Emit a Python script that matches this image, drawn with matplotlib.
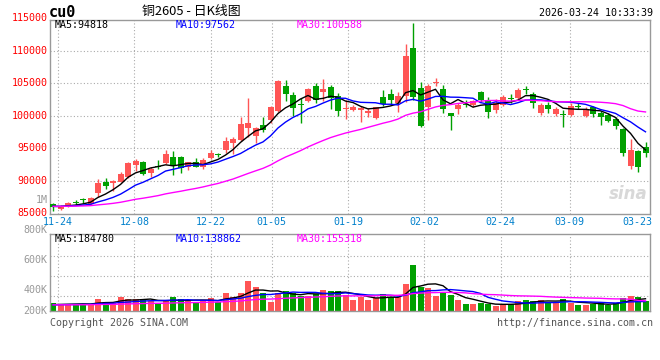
import numpy as np
import pandas as pd
import matplotlib
matplotlib.use('Agg')
import matplotlib.pyplot as plt
import matplotlib.transforms as mtrans

W, H = 660, 360

# ---------------- data ----------------
opens = [86457, 85639, 86150, 86712, 87121, 86457, 88082, 89871, 89615, 89882,
         90547, 92438, 92847, 91262, 92284, 92693, 93614, 93716, 92182, 92847,
         92182, 93460, 94022, 94738, 95863, 96272, 98062, 96885, 98573, 99339,
         100770, 104604, 103173, 101690, 102304, 104553, 103684, 104451, 103020, 101078,
         100873, 100873, 100464, 99697, 102815, 103326, 101895, 103020, 110330, 104195,
         101384, 104962, 104093, 100362, 100975, 101844, 101640, 103684, 102406, 100874,
         101640, 102764, 102662, 104144, 103326, 100464, 101640, 100259, 100259, 100106,
         101435, 99953, 101282, 100464, 100106, 99493, 97959, 92285, 94585, 95147]
highs = [86661, 86252, 86815, 87070, 87428, 87479, 90229, 90484, 90126, 91416,
         92898, 93307, 93000, 92182, 93205, 94738, 94636, 93818, 92949, 93460,
         93460, 94738, 94329, 96783, 96681, 99850, 102766, 98317, 99850, 101486,
         105473, 105473, 103684, 102662, 104195, 105064, 105627, 104706, 103429, 102406,
         101640, 101486, 101128, 101384, 103940, 104042, 103684, 110995, 114163, 105218,
         104860, 105832, 104706, 100464, 101895, 102406, 102406, 103838, 102815, 102510,
         103173, 103326, 104195, 104553, 103684, 101998, 102151, 101282, 100873, 101895,
         101895, 101282, 101486, 100771, 100362, 99748, 98062, 96425, 94738, 95914]
lows = [85434, 85537, 86048, 86252, 86661, 86304, 87479, 88695, 88502, 89831,
        90444, 91569, 90904, 90649, 91773, 92591, 90904, 91262, 91671, 92080,
        91825, 93307, 93614, 94227, 94124, 96170, 96783, 95761, 97550, 98931,
        100617, 102253, 99952, 98828, 102151, 101895, 102304, 100975, 99953, 99544,
        100770, 99084, 99850, 99441, 101486, 101640, 100617, 102151, 102406, 98317,
        99339, 104553, 100464, 97806, 100259, 101282, 101384, 102100, 99595, 100465,
        101486, 101998, 102406, 103326, 101231, 100106, 100362, 99953, 98317, 99953,
        101078, 99850, 99850, 98572, 99084, 97908, 93818, 91773, 91416, 93716]
closes = [86048, 86048, 86661, 86610, 87019, 87326, 89717, 89257, 89922, 91058,
          92796, 93102, 91058, 91876, 92182, 94124, 92335, 91927, 92847, 92182,
          93205, 94329, 93920, 96169, 96374, 98726, 98931, 98164, 97806, 101384,
          105371, 103326, 101128, 101588, 104093, 102406, 104093, 102764, 100770, 101180,
          101282, 101231, 100770, 101282, 101793, 102406, 103020, 109154, 102917, 98419,
          104553, 105218, 100975, 100004, 101640, 101690, 102253, 102406, 100617, 101897,
          102917, 102611, 103940, 103991, 101998, 101640, 100975, 100975, 100157, 101486,
          101282, 100975, 100259, 99748, 99237, 98419, 94329, 94738, 92080, 94227]
volumes_k = [311, 306, 306, 306, 306, 306, 338, 322, 311, 355,
             338, 338, 338, 328, 311, 326, 350, 338, 326, 322,
             328, 345, 322, 383, 355, 378, 460, 422, 383, 322,
             383, 393, 383, 360, 360, 373, 400, 393, 393, 367,
             333, 355, 333, 345, 373, 355, 350, 440, 567, 422,
             416, 360, 378, 367, 333, 306, 306, 315, 306, 293,
             300, 306, 326, 333, 326, 333, 315, 322, 340, 315,
             300, 300, 306, 317, 300, 315, 349, 362, 355, 326]

prior_close_level = 86100
prior_volume_k_level = 300

date_labels = ['11-24', '12-08', '12-22', '01-05', '01-19', '02-02', '02-24', '03-09', '03-23']
date_offsets = [0, 10, 20, 28, 38, 48, 58, 67, 77]

price_ticks = [115000, 110000, 105000, 100000, 95000, 90000, 85000]
vol_ticks = [800000, 600000, 400000, 200000]
vol_tick_labels = ['800K', '600K', '400K', '200K']

ma_windows = [5, 10, 30]
ma_names = ['MA5', 'MA10', 'MA30']
price_ma_values = ['94818', '97562', '100588']
vol_ma_values = ['184780', '138862', '155318']

symbol = 'cu0'
title = '铜2605 - 日K线图'
timestamp = '2026-03-24 10:33:39'
copyright_text = 'Copyright 2026 SINA.COM'
url_text = 'http://finance.sina.com.cn'

# ---------------- style ----------------
RED = '#FF5555'
GREEN = '#00A000'
MA_COLORS = ['#000000', '#0000FF', '#FF00FF']
GRID = '#AAAAAA'
FRAME = '#999999'
MONO = 'DejaVu Sans Mono'
CJK = ['Noto Sans CJK SC', 'DejaVu Sans']

o = np.array(opens, float); h = np.array(highs, float)
l = np.array(lows, float); c = np.array(closes, float)
v = np.array(volumes_k, float) * 1000
n = len(c)
x = np.arange(n)
up = c >= o
cols = np.where(up, RED, GREEN)

def moving_avg(series, w, prior):
    pad = max(ma_windows) - 1
    s = pd.Series(np.concatenate([np.full(pad, prior), series]))
    return s.rolling(w).mean().to_numpy()[pad:]

fig = plt.figure(figsize=(W / 100, H / 100), dpi=100)
fig.patch.set_facecolor('white')

def px_ax(left, top, right, bottom):
    return fig.add_axes([left / W, 1 - bottom / H, (right - left) / W, (bottom - top) / H])

axp = px_ax(50, 19.5, 650, 213.5)
axv = px_ax(50, 234.3, 650, 311)

PX_PER_PRICE = 32.6 / 5000
p_top = 85000 + (213.5 - 19.5) / PX_PER_PRICE
axp.set_ylim(85000, p_top)
# volume scale: 800K at y=230.3 px, 29.85 px per 200K
VPX = 29.85 / 200000
v_bot = 800000 - (311 - 230.3) / VPX
v_top = 800000 - (234.3 - 230.3) / VPX
axv.set_ylim(v_bot, v_top)

for ax in (axp, axv):
    ax.set_xlim(-0.4, n - 0.4)
    ax.set_xticks([]); ax.set_yticks([])
    for s in ax.spines.values():
        s.set_color(FRAME); s.set_linewidth(1)
    ax.set_facecolor('white')

# grid positions (date grid spacing in reference is slightly wider than bar spacing)
grid_pos = [0.667 + 1.018 * d for d in date_offsets]
dotted = dict(color=GRID, lw=0.8, linestyle=(0, (1, 2)), zorder=0)
for gx in grid_pos:
    if gx < n - 1.5:
        axp.axvline(gx, **dotted)
        axv.axvline(gx, **dotted)
for pt in price_ticks:
    if 85000 < pt < p_top:
        axp.axhline(pt, **dotted)
for f in (0.2, 0.46, 0.72):
    axv.plot([0, 1], [f, f], transform=axv.transAxes, **dotted)

# candles
axp.vlines(x, l, h, colors=cols, lw=1, zorder=2)
body_b = np.minimum(o, c)
body_h = np.maximum(np.abs(c - o), 160)
axp.bar(x, body_h, bottom=body_b, width=0.8, color=cols, linewidth=0, zorder=3)

# price MAs
for w, col in zip(ma_windows, MA_COLORS):
    axp.plot(x, moving_avg(c, w, prior_close_level), color=col, lw=1, zorder=4)

# volume bars + MAs
axv.bar(x, v, width=0.8, color=cols, linewidth=0, zorder=2)
for w, col in zip(ma_windows, MA_COLORS):
    axv.plot(x, moving_avg(v, w, prior_volume_k_level * 1000), color=col, lw=1, zorder=4)

# ---------------- text ----------------
def ftxt(px, py, s, **kw):
    kw.setdefault('va', 'center')
    fig.text(px / W, 1 - py / H, s, **kw)

# price axis labels
tp = mtrans.blended_transform_factory(fig.transFigure, axp.transData)
for pt in price_ticks:
    axp.text(47.5 / W, pt, str(pt), transform=tp, ha='right', va='center',
             color='#FF0000', fontsize=7.2, family=MONO, clip_on=False)
ftxt(47.5, 200, '1M', ha='right', color='#999999', fontsize=7.2, family=MONO)

# volume axis labels
tv = mtrans.blended_transform_factory(fig.transFigure, axv.transData)
for vt, lab in zip(vol_ticks, vol_tick_labels):
    axv.text(47.5 / W, max(vt, v_bot), lab, transform=tv, ha='right', va='center',
             color='#999999', fontsize=7.2, family=MONO, clip_on=False)

# date labels
for gx, lab in zip(grid_pos, date_labels):
    xpx = 50 + (gx + 0.4) * 7.5
    if xpx + 15 > 652:
        ftxt(652, 222, lab, ha='right', color='#0080CC', fontsize=7.2, family=MONO)
    else:
        ftxt(xpx, 222, lab, ha='center', color='#0080CC', fontsize=7.2, family=MONO)

# MA legends
leg_x = [55, 176, 297]
for nm, val, col, lx in zip(ma_names, price_ma_values, MA_COLORS, leg_x):
    ftxt(lx, 24.5, f'{nm}:{val}', ha='left', color=col, fontsize=7.2, family=MONO)
for nm, val, col, lx in zip(ma_names, vol_ma_values, MA_COLORS, leg_x):
    ftxt(lx, 239, f'{nm}:{val}', ha='left', color=col, fontsize=7.2, family=MONO)

# header
ftxt(49, 12.5, symbol, ha='left', color='black', fontsize=11, family=MONO, weight='bold')
ftxt(142, 11, title, ha='left', color='black', fontsize=9.3, family=CJK)
ftxt(653, 12.5, timestamp, ha='right', color='black', fontsize=7.2, family=MONO)

# footer
ftxt(50, 323, copyright_text, ha='left', color='#555555', fontsize=7.2, family=MONO)
ftxt(653, 323, url_text, ha='right', color='#555555', fontsize=7.2, family=MONO)

# watermark
ftxt(648, 194, 'sina', ha='right', color='#D8D8D8', fontsize=12, weight='bold',
     style='italic', family='DejaVu Sans')

fig.savefig('out.png', dpi=100, facecolor='white')
